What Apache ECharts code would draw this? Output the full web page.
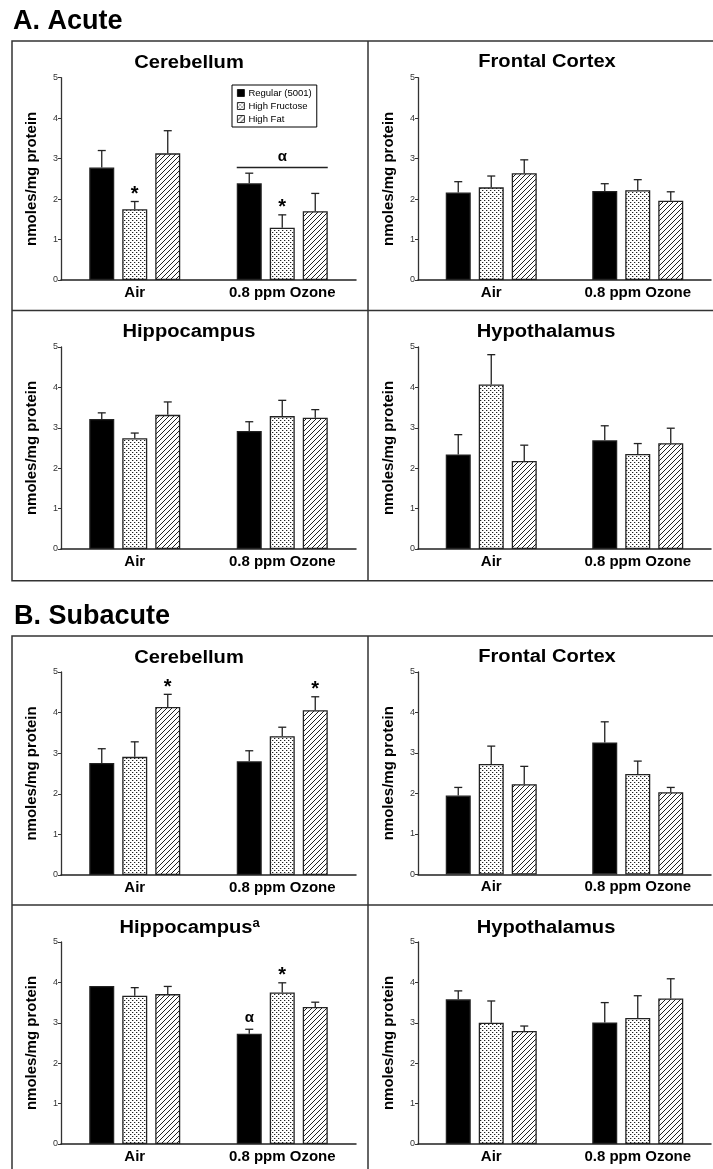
<!DOCTYPE html>
<html><head><meta charset="utf-8">
<script src="https://cdn.jsdelivr.net/npm/echarts@6/dist/echarts.min.js"></script>
<style>html,body{margin:0;padding:0;background:#fff}#c{width:713px;height:1169px}</style>
</head><body><div id="c"></div>
<script>
// ---------------- DATA ----------------
const categories = ['Air', '0.8 ppm Ozone'];
const dietNames = ['Regular (5001)', 'High Fructose', 'High Fat'];
const sectionTitles = ['A. Acute', 'B. Subacute'];
const panelTitles = ['Cerebellum', 'Frontal Cortex', 'Hippocampus', 'Hypothalamus',
                     'Cerebellum', 'Frontal Cortex', 'Hippocampus', 'Hypothalamus'];
const panelTitleSup = ['', '', '', '', '', '', 'a', ''];
const yAxisName = 'nmoles/mg protein';
const yMin = 0, yMax = 5, yInterval = 1;

// means [diet][category], SEM [diet][category]
const acuteCerebellumMean  = [[2.78, 2.39], [1.75, 1.29], [3.13, 1.70]];
const acuteCerebellumSem   = [[0.42, 0.25], [0.19, 0.32], [0.56, 0.44]];
const acuteFrontalMean     = [[2.16, 2.20], [2.29, 2.22], [2.64, 1.96]];
const acuteFrontalSem      = [[0.27, 0.18], [0.28, 0.26], [0.33, 0.22]];
const acuteHippocampusMean = [[3.22, 2.92], [2.74, 3.29], [3.32, 3.25]];
const acuteHippocampusSem  = [[0.15, 0.23], [0.13, 0.39], [0.32, 0.20]];
const acuteHypothalamusMean= [[2.34, 2.69], [4.07, 2.35], [2.18, 2.62]];
const acuteHypothalamusSem = [[0.49, 0.36], [0.74, 0.26], [0.39, 0.37]];
const subCerebellumMean    = [[2.76, 2.80], [2.91, 3.42], [4.14, 4.06]];
const subCerebellumSem     = [[0.35, 0.26], [0.37, 0.22], [0.31, 0.33]];
const subFrontalMean       = [[1.95, 3.26], [2.73, 2.48], [2.23, 2.03]];
const subFrontalSem        = [[0.20, 0.51], [0.44, 0.32], [0.44, 0.12]];
const subHippocampusMean   = [[3.91, 2.73], [3.67, 3.75], [3.71, 3.39]];
const subHippocampusSem    = [[0.00, 0.11], [0.20, 0.24], [0.19, 0.12]];
const subHypothalamusMean  = [[3.58, 3.01], [3.00, 3.12], [2.80, 3.60]];
const subHypothalamusSem   = [[0.21, 0.49], [0.54, 0.55], [0.12, 0.49]];

// significance marks: [panel, diet, category, symbol]
const sigMarks = [[0, 1, 0, '*'], [0, 1, 1, '*'], [4, 2, 0, '*'], [4, 2, 1, '*'],
                  [6, 0, 1, 'α'], [6, 1, 1, '*']];
// group brackets: [panel, category, value, symbol]
const groupBrackets = [[0, 1, 2.78, 'α']];

// ---------------- LAYOUT / STYLE ----------------
const FONT = '"Liberation Sans", Arial, Helvetica, sans-serif';
const BAR_W = 25, BAR_GAP = 0.32;
const STEP = BAR_W * (1 + BAR_GAP);
const grids = [
  {left: 61, top: 77.7, width: 295, height: 202.3},
  {left: 418, top: 77.7, width: 293, height: 202.3},
  {left: 61, top: 347, width: 295, height: 202},
  {left: 418, top: 347, width: 293, height: 202},
  {left: 61, top: 672, width: 295, height: 203},
  {left: 418, top: 672, width: 293, height: 202.5},
  {left: 61, top: 942, width: 295, height: 202},
  {left: 418, top: 942, width: 293, height: 202}
];
const titlePos = [[189, 63], [547, 62.5], [189, 332], [546, 332],
                  [189, 658], [547, 657.5], [186, 928], [546, 928]];

function dotPattern() {
  const c = document.createElement('canvas'); c.width = 4; c.height = 4;
  const g = c.getContext('2d');
  g.fillStyle = '#fff'; g.fillRect(0, 0, 4, 4);
  g.fillStyle = '#222'; g.fillRect(0, 0, 1, 1); g.fillRect(2, 2, 1, 1);
  g.fillStyle = '#bbb'; g.fillRect(1, 0, 1, 1); g.fillRect(3, 2, 1, 1);
  return c;
}
function hatchPattern() {
  const s = 5;
  const c = document.createElement('canvas'); c.width = s; c.height = s;
  const g = c.getContext('2d');
  g.fillStyle = '#fff'; g.fillRect(0, 0, s, s);
  g.strokeStyle = '#222'; g.lineWidth = 1;
  g.beginPath();
  g.moveTo(0, s); g.lineTo(s, 0);
  g.moveTo(-1, 1); g.lineTo(1, -1);
  g.moveTo(s - 1, s + 1); g.lineTo(s + 1, s - 1);
  g.stroke();
  return c;
}
const fills = ['#000', {image: dotPattern(), repeat: 'repeat'}, {image: hatchPattern(), repeat: 'repeat'}];

const panels = [
  [acuteCerebellumMean, acuteCerebellumSem], [acuteFrontalMean, acuteFrontalSem],
  [acuteHippocampusMean, acuteHippocampusSem], [acuteHypothalamusMean, acuteHypothalamusSem],
  [subCerebellumMean, subCerebellumSem], [subFrontalMean, subFrontalSem],
  [subHippocampusMean, subHippocampusSem], [subHypothalamusMean, subHypothalamusSem]
];

const xAxes = [], yAxes = [], series = [];
panels.forEach(([mean, sem], p) => {
  xAxes.push({
    type: 'category', gridIndex: p, data: categories,
    axisLine: {lineStyle: {color: '#222', width: 1.5}},
    axisTick: {show: false},
    axisLabel: {fontFamily: FONT, fontWeight: 'bold', fontSize: 15, color: '#000', margin: 5}
  });
  yAxes.push({
    type: 'value', gridIndex: p, min: yMin, max: yMax, interval: yInterval,
    splitLine: {show: false},
    axisLine: {show: true, lineStyle: {color: '#333', width: 1.3}},
    axisTick: {show: true, length: 3, lineStyle: {color: '#333', width: 1}},
    axisLabel: {fontFamily: FONT, fontSize: 9, color: '#333', margin: 3},
    name: yAxisName, nameLocation: 'middle', nameGap: 22,
    nameTextStyle: {fontFamily: FONT, fontWeight: 'bold', fontSize: 15, color: '#000'}
  });
  dietNames.forEach((nm, d) => {
    series.push({
      type: 'bar', name: nm, xAxisIndex: p, yAxisIndex: p,
      data: mean[d], barWidth: BAR_W, barGap: (BAR_GAP * 100) + '%',
      itemStyle: {color: fills[d], borderColor: '#222', borderWidth: 1.3},
      emphasis: {disabled: true}
    });
  });
  const errData = [], errMarks = [];
  dietNames.forEach((nm, d) => {
    categories.forEach((c, k) => {
      errData.push([k, d, mean[d][k], mean[d][k] + sem[d][k]]);
      const mk = sigMarks.find(m => m[0] === p && m[1] === d && m[2] === k);
      errMarks.push(mk ? mk[3] : '');
    });
  });
  series.push({
    type: 'custom', xAxisIndex: p, yAxisIndex: p, data: errData, z: 5, clip: false,
    renderItem: (params, api) => {
      const k = api.value(0), d = api.value(1), m = api.value(2), top = api.value(3);
      const pb = api.coord([k, m]), pt = api.coord([k, top]);
      const x = pb[0] + (d - 1) * STEP;
      const ch = [];
      const ls = {stroke: '#222', lineWidth: 1.3};
      if (top > m) {
        ch.push({type: 'line', shape: {x1: x, y1: pb[1], x2: x, y2: pt[1]}, style: ls});
        ch.push({type: 'line', shape: {x1: x - 4, y1: pt[1], x2: x + 4, y2: pt[1]}, style: ls});
      }
      const mk = errMarks[params.dataIndex];
      if (mk) {
        const star = mk === '*';
        ch.push({type: 'text', x: x, y: pt[1] - 12 + (star ? 5 : 1),
          style: {text: mk, fontFamily: FONT, fontWeight: 'bold', fontSize: star ? 20 : 15,
                  fill: '#000', align: 'center', verticalAlign: 'middle'}});
      }
      return {type: 'group', children: ch};
    }
  });
  const br = groupBrackets.filter(b => b[0] === p);
  if (br.length) {
    series.push({
      type: 'custom', xAxisIndex: p, yAxisIndex: p, z: 5, clip: false,
      data: br.map(b => [b[1], b[2]]),
      renderItem: (params, api) => {
        const c = api.coord([api.value(0), api.value(1)]);
        const half = 1.5 * BAR_W + BAR_W * BAR_GAP;
        return {type: 'group', children: [
          {type: 'line', shape: {x1: c[0] - half, y1: c[1], x2: c[0] + half, y2: c[1]},
           style: {stroke: '#222', lineWidth: 1.3}},
          {type: 'text', x: c[0], y: c[1] - 11,
           style: {text: br[params.dataIndex][3], fontFamily: FONT, fontWeight: 'bold', fontSize: 15,
                   fill: '#000', align: 'center', verticalAlign: 'middle'}}
        ]};
      }
    });
  }
});

const graphics = [];
const boxStyle = {fill: 'none', stroke: '#333', lineWidth: 1.5};
graphics.push({type: 'rect', shape: {x: 12, y: 41, width: 760, height: 539.7}, style: boxStyle, silent: true});
graphics.push({type: 'line', shape: {x1: 368, y1: 41, x2: 368, y2: 580.7}, style: boxStyle, silent: true});
graphics.push({type: 'line', shape: {x1: 12, y1: 310.5, x2: 772, y2: 310.5}, style: boxStyle, silent: true});
graphics.push({type: 'rect', shape: {x: 12, y: 636, width: 760, height: 600}, style: boxStyle, silent: true});
graphics.push({type: 'line', shape: {x1: 368, y1: 636, x2: 368, y2: 1236}, style: boxStyle, silent: true});
graphics.push({type: 'line', shape: {x1: 12, y1: 905, x2: 772, y2: 905}, style: boxStyle, silent: true});
graphics.push({type: 'text', x: 13, y: 22, style: {text: sectionTitles[0], fontFamily: FONT, fontWeight: 'bold',
  fontSize: 27, fill: '#000', align: 'left', verticalAlign: 'middle'}});
graphics.push({type: 'text', x: 14, y: 617, style: {text: sectionTitles[1], fontFamily: FONT, fontWeight: 'bold',
  fontSize: 27, fill: '#000', align: 'left', verticalAlign: 'middle'}});
panelTitles.forEach((t, p) => {
  const [x, y] = titlePos[p];
  graphics.push({type: 'text', x: x, y: y, scaleX: 1.15, style: {text: t, fontFamily: FONT, fontWeight: 'bold',
    fontSize: 17.5, fill: '#000', align: 'center', verticalAlign: 'middle'}});
  if (panelTitleSup[p]) {
    graphics.push({type: 'text', x: x + 66.5, y: y - 5, style: {text: panelTitleSup[p], fontFamily: FONT,
      fontWeight: 'bold', fontSize: 13, fill: '#000', align: 'left', verticalAlign: 'middle'}});
  }
});

const chart = echarts.init(document.getElementById('c'), null, {renderer: 'canvas'});
chart.setOption({
  animation: false,
  backgroundColor: '#fff',
  grid: grids,
  xAxis: xAxes,
  yAxis: yAxes,
  legend: {
    left: 232, top: 85, orient: 'vertical', data: dietNames, icon: 'rect',
    itemWidth: 7, itemHeight: 7, itemGap: 3, padding: [3, 5, 3, 5],
    borderColor: '#000', borderWidth: 1, selectedMode: false,
    itemStyle: {borderColor: '#000', borderWidth: 0.8},
    textStyle: {fontFamily: FONT, fontSize: 9.5, color: '#000', padding: [0, 0, 0, -1]}
  },
  series: series,
  graphic: graphics
});
</script></body></html>
